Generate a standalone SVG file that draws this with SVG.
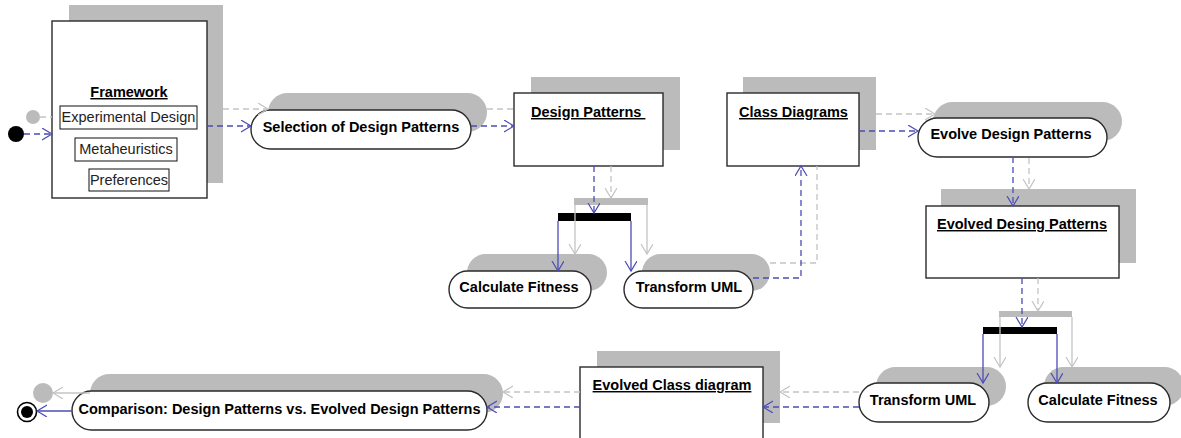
<svg xmlns="http://www.w3.org/2000/svg" width="1181" height="438" viewBox="0 0 1181 438">
  <defs>
    <marker id="arrowBlue" markerUnits="userSpaceOnUse" markerWidth="12" markerHeight="14" refX="10" refY="6" orient="auto">
      <path d="M0,0 L10,6 L0,12" fill="none" stroke="#4c4cb8" stroke-width="1.2"/>
    </marker>
    <marker id="arrowGray" markerUnits="userSpaceOnUse" markerWidth="12" markerHeight="14" refX="10" refY="6" orient="auto">
      <path d="M0,0 L10,6 L0,12" fill="none" stroke="#c4c4c4" stroke-width="1.2"/>
    </marker>
  </defs>
  <style>
    .shadow { fill: #bbbbbb; }
    .front { fill: #ffffff; stroke: #2a2a2a; stroke-width: 1.4; }
    .item { fill: #ffffff; stroke: #111111; stroke-width: 1; }
    .label { font-family: "Liberation Sans", Arial, sans-serif; font-size: 14.5px; font-weight: bold; fill: #000000; text-anchor: middle; }
    .title { text-decoration: underline; }
    .plain { font-family: "Liberation Sans", Arial, sans-serif; font-size: 14.5px; fill: #222222; text-anchor: middle; }
    .bar { fill: #000000; }
    .barShadow { fill: #bbbbbb; }
    .g-dash { fill: none; stroke: #c4c4c4; stroke-width: 1.3; stroke-dasharray: 6 4; }
    .g-solid { fill: none; stroke: #c4c4c4; stroke-width: 1.3; }
    .b-dash { fill: none; stroke: #4c4cb8; stroke-width: 1.3; stroke-dasharray: 6 4; }
    .b-solid { fill: none; stroke: #4c4cb8; stroke-width: 1.3; }
  </style>

  <rect width="1181" height="438" fill="#ffffff"/>

  <!-- initial node -->
  <g id="start">
    <circle cx="33" cy="117" r="7" fill="#bbbbbb"/>
    <circle cx="16" cy="134" r="8" fill="#000000"/>
  </g>

  <!-- framework object with its parameters -->
  <g id="framework">
    <rect class="shadow" x="69" y="5" width="154" height="178"/>
    <rect class="front" x="52" y="21" width="155" height="177"/>
    <text class="label title" x="129" y="97">Framework</text>
    <rect class="item" x="60" y="106" width="137" height="23"/>
    <text class="plain" x="128.5" y="122">Experimental Design</text>
    <rect class="item" x="75" y="138" width="102" height="23"/>
    <text class="plain" x="126" y="154">Metaheuristics</text>
    <rect class="item" x="89" y="169" width="80" height="22"/>
    <text class="plain" x="129" y="185">Preferences</text>
  </g>

  <g id="selection">
    <rect class="shadow" x="268" y="93" width="219" height="39" rx="19.5"/>
    <rect class="front" x="251" y="110" width="220" height="39" rx="19.5"/>
    <text class="label" x="361" y="132">Selection of Design Patterns</text>
  </g>

  <g id="designPatterns">
    <rect class="shadow" x="531" y="77" width="149" height="73"/>
    <rect class="front" x="514" y="93" width="149" height="73"/>
    <text class="label title" x="531" y="117" style="text-anchor:start" xml:space="preserve">Design Patterns </text>
  </g>

  <g id="classDiagrams">
    <rect class="shadow" x="743" y="77" width="133" height="73"/>
    <rect class="front" x="727" y="93" width="132" height="73"/>
    <text class="label title" x="793.5" y="117">Class Diagrams</text>
  </g>

  <g id="forkTop">
    <rect class="barShadow" x="574" y="198" width="74" height="7"/>
    <rect class="bar" x="558" y="213" width="73" height="8"/>
  </g>

  <g id="calculateFitness1">
    <rect class="shadow" x="467" y="254" width="140" height="37" rx="18.5"/>
    <rect class="front" x="449" y="271" width="142" height="37" rx="18.5"/>
    <text class="label" x="519" y="292">Calculate Fitness</text>
  </g>

  <g id="transformUml1">
    <rect class="shadow" x="642" y="254" width="128" height="37" rx="18.5"/>
    <rect class="front" x="624" y="271" width="129" height="37" rx="18.5"/>
    <text class="label" x="689" y="292">Transform UML</text>
  </g>

  <g id="evolveDesignPatterns">
    <rect class="shadow" x="933" y="102" width="189" height="39" rx="19.5"/>
    <rect class="front" x="918" y="118" width="189" height="39" rx="19.5"/>
    <text class="label" x="1011" y="139">Evolve Design Patterns</text>
  </g>

  <g id="evolvedDesingPatterns">
    <rect class="shadow" x="941" y="189" width="195" height="74"/>
    <rect class="front" x="926" y="206" width="193" height="72"/>
    <text class="label title" x="1022" y="229">Evolved Desing Patterns</text>
  </g>

  <g id="forkBottom">
    <rect class="barShadow" x="999" y="311" width="73" height="6"/>
    <rect class="bar" x="983" y="327" width="74" height="7"/>
  </g>

  <g id="transformUml2">
    <rect class="shadow" x="876" y="367" width="130" height="39" rx="19.5"/>
    <rect class="front" x="859" y="383" width="130" height="39" rx="19.5"/>
    <text class="label" x="923" y="405">Transform UML</text>
  </g>

  <g id="calculateFitness2">
    <rect class="shadow" x="1044" y="367" width="140" height="39" rx="19.5"/>
    <rect class="front" x="1028" y="383" width="142" height="39" rx="19.5"/>
    <text class="label" x="1098" y="405">Calculate Fitness</text>
  </g>

  <g id="evolvedClassDiagram">
    <rect class="shadow" x="597" y="351" width="183" height="72"/>
    <rect class="front" x="580" y="367" width="183" height="80"/>
    <text class="label title" x="672" y="390">Evolved Class diagram</text>
  </g>

  <g id="comparison">
    <rect class="shadow" x="90" y="374" width="413" height="39" rx="19.5"/>
    <rect class="front" x="72" y="391" width="415" height="39" rx="19.5"/>
    <text class="label" x="279.5" y="414">Comparison: Design Patterns vs. Evolved Design Patterns</text>
  </g>

  <!-- final node -->
  <g id="final">
    <circle cx="43" cy="393" r="10" fill="#bbbbbb"/>
    <circle cx="27" cy="412" r="9.5" fill="#ffffff" stroke="#000000" stroke-width="1.6"/>
    <circle cx="27" cy="412" r="6" fill="#000000"/>
  </g>

  <g id="connectors">
    <!-- shadow layer flows -->
    <path class="g-dash" d="M40,117 H52"/>
    <path class="g-dash" d="M223,109 H268" marker-end="url(#arrowGray)"/>
    <path class="g-dash" d="M487,109 H514"/>
    <path class="g-dash" d="M611,166 V198" marker-end="url(#arrowGray)"/>
    <path class="g-solid" d="M575,205 V254" marker-end="url(#arrowGray)"/>
    <path class="g-solid" d="M647,205 V254" marker-end="url(#arrowGray)"/>
    <path class="g-dash" d="M770,263 H817 V166"/>
    <path class="g-dash" d="M876,114 H935" marker-end="url(#arrowGray)"/>
    <path class="g-dash" d="M1029,158 V189" marker-end="url(#arrowGray)"/>
    <path class="g-dash" d="M1038,278 V311" marker-end="url(#arrowGray)"/>
    <path class="g-solid" d="M1000,317 V367" marker-end="url(#arrowGray)"/>
    <path class="g-solid" d="M1072,317 V367" marker-end="url(#arrowGray)"/>
    <path class="g-dash" d="M859,392 H780" marker-end="url(#arrowGray)"/>
    <path class="g-dash" d="M580,392 H503" marker-end="url(#arrowGray)"/>
    <path class="g-solid" d="M90,393 H53" marker-end="url(#arrowGray)"/>

    <!-- main flows -->
    <path class="b-dash" d="M24,134 H52" marker-end="url(#arrowBlue)"/>
    <path class="b-dash" d="M207,126 H251" marker-end="url(#arrowBlue)"/>
    <path class="b-dash" d="M471,126 H514" marker-end="url(#arrowBlue)"/>
    <path class="b-dash" d="M594,166 V213" marker-end="url(#arrowBlue)"/>
    <path class="b-solid" d="M558,221 V271" marker-end="url(#arrowBlue)"/>
    <path class="b-solid" d="M631,221 V271" marker-end="url(#arrowBlue)"/>
    <path class="b-dash" d="M753,278 H801 V166" marker-end="url(#arrowBlue)"/>
    <path class="b-dash" d="M859,131 H918" marker-end="url(#arrowBlue)"/>
    <path class="b-dash" d="M1013,157 V206" marker-end="url(#arrowBlue)"/>
    <path class="b-dash" d="M1022,278 V327" marker-end="url(#arrowBlue)"/>
    <path class="b-solid" d="M983,334 V383" marker-end="url(#arrowBlue)"/>
    <path class="b-solid" d="M1057,334 V383" marker-end="url(#arrowBlue)"/>
    <path class="b-dash" d="M859,407 H763" marker-end="url(#arrowBlue)"/>
    <path class="b-dash" d="M580,407 H487" marker-end="url(#arrowBlue)"/>
    <path class="b-solid" d="M72,411 H37" marker-end="url(#arrowBlue)"/>
  </g>
</svg>
